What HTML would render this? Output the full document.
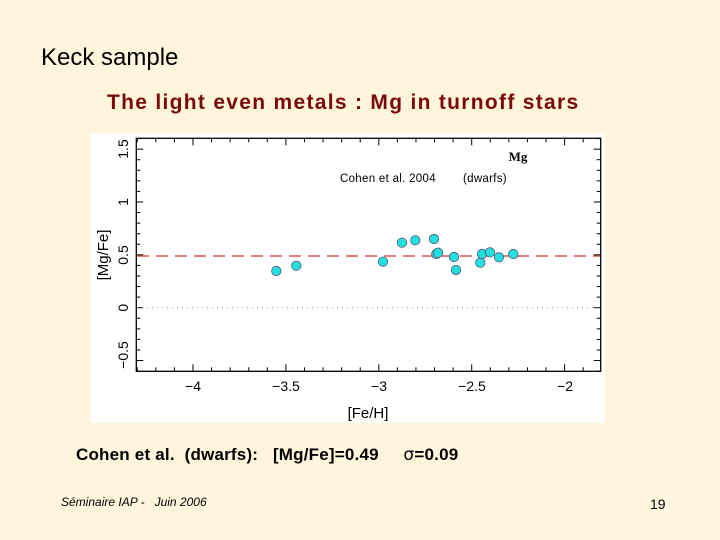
<!DOCTYPE html>
<html><head><meta charset="utf-8"><style>
body{margin:0;width:720px;height:540px;background:#FFF5DC;position:relative;overflow:hidden;font-family:"Liberation Sans",sans-serif}
.t{position:absolute;white-space:nowrap}
</style></head><body>
<div class="t" style="left:41px;top:44px;font-size:24px;color:#000">Keck sample</div>
<div class="t" style="left:107px;top:91px;font-size:21px;letter-spacing:1.3px;font-weight:bold;color:#7a0a0a">The light even metals : Mg in turnoff stars</div>
<svg style="position:absolute;left:0;top:0" width="720" height="540">
<rect x="90" y="133" width="515" height="290" fill="#fff"/>
<g id="ticks" stroke="#000" stroke-width="1">
</g>
<rect x="136.3" y="138.3" width="464.4" height="233" fill="none" stroke="#000" stroke-width="1.3"/>
<line x1="137" y1="256" x2="600" y2="256" stroke="#e03030" stroke-width="1.3" stroke-dasharray="12,7"/>
<line x1="137" y1="307.7" x2="600" y2="307.7" stroke="#999" stroke-width="1" stroke-dasharray="1,4"/>
<g fill="#22e0e0" stroke="#557" stroke-width="0.8">
<circle cx="276.3" cy="271" r="4.7"/><circle cx="296.3" cy="265.7" r="4.7"/><circle cx="383" cy="261.7" r="4.7"/>
<circle cx="402" cy="242.7" r="4.7"/><circle cx="415.3" cy="240.3" r="4.7"/><circle cx="434" cy="239" r="4.7"/>
<circle cx="436.3" cy="254" r="4.7"/><circle cx="438" cy="252.7" r="4.7"/><circle cx="454" cy="257" r="4.7"/>
<circle cx="456" cy="270" r="4.7"/><circle cx="480.3" cy="262.7" r="4.7"/><circle cx="482" cy="254" r="4.7"/>
<circle cx="490" cy="252.3" r="4.7"/><circle cx="499" cy="257.3" r="4.7"/><circle cx="513.3" cy="254" r="4.7"/>
</g>
<g font-family="Liberation Sans,sans-serif" font-size="14" fill="#000" text-anchor="middle">
<text x="193" y="391">−4</text><text x="286" y="391">−3.5</text><text x="379" y="391">−3</text><text x="472" y="391">−2.5</text><text x="565" y="391">−2</text>
<text x="368" y="418" font-size="15">[Fe/H]</text>
<g transform="rotate(-90)">
<text x="-149" y="128">1.5</text><text x="-202" y="128">1</text><text x="-255" y="128">0.5</text><text x="-307.7" y="128">0</text><text x="-355" y="128">−0.5</text>
<text x="-255" y="108" font-size="15">[Mg/Fe]</text>
</g>
<text x="340" y="182" font-size="11.5" text-anchor="start" letter-spacing="0.3">Cohen et al. 2004</text>
<text x="463" y="182" font-size="11.5" text-anchor="start" letter-spacing="0.3">(dwarfs)</text>
<text x="518" y="161" font-size="13" font-weight="bold" font-family="Liberation Serif,serif">Mg</text>
</g>
</svg>
<div class="t" style="left:76px;top:445px;font-size:17px;font-weight:bold;color:#000;letter-spacing:0.2px">Cohen et al.&nbsp; (dwarfs):&nbsp;&nbsp; [Mg/Fe]=0.49 &nbsp;&nbsp;&nbsp;&nbsp;<span style="font-weight:normal;font-family:'DejaVu Sans',sans-serif">σ</span>=0.09</div>
<div class="t" style="left:61px;top:495px;font-size:12px;font-style:italic;color:#000">Séminaire IAP -&nbsp;&nbsp; Juin 2006</div>
<div class="t" style="left:650px;top:496px;font-size:14px;color:#000">19</div>
<script>
var g=document.getElementById('ticks'),s='';
var x0=193,ux=185.8,y0=307.7,uy=105.7;
for(var i=-43;i<=-18;i++){var x=x0+(i/10+4)*ux;if(x<136.5||x>600.5)continue;var L=(i%5==0)?7:4;
s+='<line x1="'+x+'" y1="371.3" x2="'+x+'" y2="'+(371.3-L)+'"/><line x1="'+x+'" y1="138.3" x2="'+x+'" y2="'+(138.3+L)+'"/>';}
for(var j=-6;j<=16;j++){var y=y0-j/10*uy;if(y<138||y>371.5)continue;var L=(j%5==0)?7:4;
s+='<line x1="136.3" y1="'+y+'" x2="'+(136.3+L)+'" y2="'+y+'"/><line x1="600.7" y1="'+y+'" x2="'+(600.7-L)+'" y2="'+y+'"/>';}
g.innerHTML=s;
</script>
</body></html>
